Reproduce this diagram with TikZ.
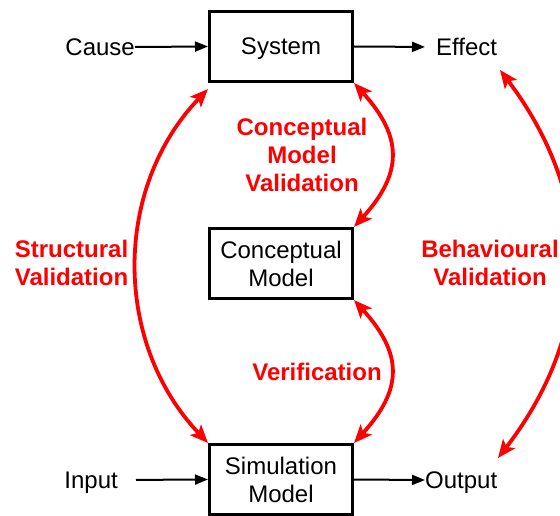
\documentclass[tikz,border=0pt]{standalone}
\usepackage{fontspec}
\setmainfont{Liberation Sans}
\usetikzlibrary{arrows.meta}
\begin{document}
\begin{tikzpicture}[x=1pt,y=-1pt,
  box/.style={draw, line width=2.6pt, minimum width=143.4pt, minimum height=70.4pt, inner sep=0pt, align=center, font=\fontsize{24}{28}\selectfont},
  lbl/.style={inner sep=0pt, text height=17.3pt, text depth=0pt, font=\fontsize{24}{28}\selectfont},
  rlbl/.style={text=red, align=center, inner sep=0pt, font=\fontsize{24}{28}\selectfont\bfseries},
  barrow/.style={line width=2pt, -{Triangle[length=13pt,width=10pt]}},
  rarrow/.style={draw=red, line width=3.8pt, {Stealth[length=18pt,width=15pt,inset=4pt]}-{Stealth[length=18pt,width=15pt,inset=4pt]}}
]
\useasboundingbox (0,0) rectangle (560,516);

\node[box, text depth=0pt] (system) at (281,46.5) {System};
\node[box] (concept) at (281,263.5) {Conceptual\\Model};
\node[box] (sim) at (281,479.5) {Simulation\\Model};

\node[lbl, anchor=east] (cause) at (135,47) {Cause};
\node[lbl, anchor=west] (effect) at (436,47) {Effect};
\node[lbl, anchor=east] (input) at (118,480) {Input};
\node[lbl, anchor=west] (output) at (425,480) {Output};

\draw[barrow] (cause.east) -- (system.west);
\draw[barrow, shorten >=11pt] (system.east) -- (effect.west);
\draw[barrow, shorten <=18pt] (input.east) -- (sim.west);
\draw[barrow] (sim.east) -- (output.west);

\coordinate (be1) at (500,70);
\coordinate (be2) at (498,458);

\draw[rarrow] ([yshift=-6pt]system.south west) .. controls (113,188) and (113,343) .. (sim.north west);
\draw[rarrow] (system.south east) .. controls (403,137) and (403,173) .. (concept.north east);
\draw[rarrow] (concept.south east) .. controls (403,354) and (403,389) .. (sim.north east);
\draw[rarrow] (be1) .. controls (596,197) and (596,331) .. (be2);

\node[rlbl] (cmv) at (302,155) {Conceptual\\Model\\Validation};
\node[rlbl] (sv) at (71.5,263) {Structural\\Validation};
\node[rlbl] (bv) at (490,263) {Behavioural\\Validation};
\node[rlbl] (ver) at (317,372) {Verification};
\end{tikzpicture}
\end{document}
